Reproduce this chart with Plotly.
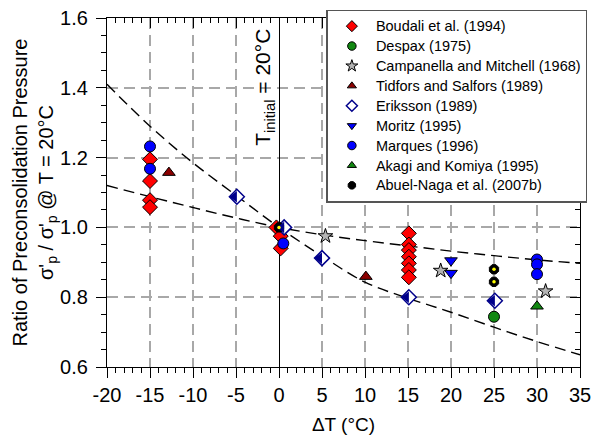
import plotly.graph_objects as go

FONT = "Liberation Sans, Arial, sans-serif"

# ---- data ----
x_ticks = [-20, -15, -10, -5, 0, 5, 10, 15, 20, 25, 30, 35]
x_ticklabels = ["-20", "-15", "-10", "-5", "0", "5", "10", "15", "20", "25", "30", "35"]
y_ticks = [0.6, 0.8, 1.0, 1.2, 1.4, 1.6]
y_ticklabels = ["0.6", "0.8", "1.0", "1.2", "1.4", "1.6"]

upper_x = [-20, -15, -10, -5, 0, 5, 10, 15, 20, 25, 30, 35]
upper_y = [1.41, 1.29, 1.185, 1.092, 1.0, 0.918, 0.843, 0.797, 0.757, 0.714, 0.673, 0.635]
lower_x = [-20, -15, -10, -5, 0, 5, 10, 15, 20, 25, 30, 35]
lower_y = [1.12, 1.088, 1.057, 1.027, 1.0, 0.979, 0.962, 0.947, 0.932, 0.919, 0.907, 0.897]

boudali_x = [-15, -15, -15, -15, -0.3, 0.2, 0.2, 15.1, 15.1, 15.1, 15.1, 15.1, 15.1, 15.1]
boudali_y = [1.195, 1.133, 1.078, 1.058, 1.0, 0.975, 0.94, 0.983, 0.951, 0.935, 0.916, 0.897, 0.878, 0.857]
despax_x = [25]
despax_y = [0.744]
campanella_x = [5.4, 18.8, 31.0]
campanella_y = [0.975, 0.876, 0.817]
tidfors_x = [-12.8, 10.1]
tidfors_y = [1.157, 0.859]
eriksson_x = [-4.9, 0.6, 5.0, 15.1, 25.1]
eriksson_y = [1.088, 1.0, 0.912, 0.80, 0.79]
moritz_x = [20, 20]
moritz_y = [0.905, 0.869]
marques_x = [-15, -15, 0.5, 30, 30, 30]
marques_y = [1.232, 1.168, 0.954, 0.908, 0.894, 0.866]
akagi_x = [30]
akagi_y = [0.774]
abuel_x = [0, 25, 25]
abuel_y = [1.0, 0.880, 0.844]

fig = go.Figure()

dash = "11px,6px"
fig.add_trace(go.Scatter(x=upper_x, y=upper_y, mode="lines", line=dict(color="black", width=1.4, dash=dash, shape="spline"),
                         showlegend=False, hoverinfo="skip"))
fig.add_trace(go.Scatter(x=lower_x, y=lower_y, mode="lines", line=dict(color="black", width=1.4, dash=dash, shape="spline"),
                         showlegend=False, hoverinfo="skip"))

LEG_SIZE = 14.5

def mk(x, y, name, symbol, size, color, lc="black", lw=1, legsize=8.5):
    # data trace (not in legend)
    fig.add_trace(go.Scatter(x=x, y=y, mode="markers", name=name, showlegend=False,
                             marker=dict(symbol=symbol, size=size, color=color, line=dict(color=lc, width=lw))))
    # legend-only entry with a small symbol, as in the reference legend
    if name:
        fig.add_trace(go.Scatter(x=[None], y=[None], mode="markers", showlegend=True, hoverinfo="skip",
                                 name=f'<span style="font-size:{LEG_SIZE}px">{name}</span>',
                                 marker=dict(symbol=symbol, size=legsize, color=color, line=dict(color=lc, width=lw))))

mk(boudali_x, boudali_y, "Boudali et al. (1994)", "diamond", 11.5, "#ff0000")
mk(despax_x, despax_y, "Despax (1975)", "circle", 11, "#118811")
mk(campanella_x, campanella_y, "Campanella and Mitchell (1968)", "star", 11, "#b4b4b4", legsize=9)
mk(tidfors_x, tidfors_y, "Tidfors and Salfors (1989)", "triangle-up", 11, "#8b0000", legsize=8)
mk(eriksson_x, eriksson_y, "Eriksson (1989)", "diamond", 11.5, "white", lc="#00008b", lw=1.5)
mk(moritz_x, moritz_y, "Moritz (1995)", "triangle-down", 11, "#0000ff", legsize=8)
mk(marques_x, marques_y, "Marques (1996)", "circle", 11, "#0000ff")
mk(akagi_x, akagi_y, "Akagi and Komiya (1995)", "triangle-up", 11, "#118811", legsize=8)
mk(abuel_x, abuel_y, "Abuel-Naga et al. (2007b)", "octagon", 10, "black", legsize=8)

# overlays: left half of Eriksson diamonds, yellow centre of Abuel-Naga symbols
half_shift = 0.29
mk([v - half_shift for v in eriksson_x], eriksson_y, "", "triangle-left", 10, "#00008b", lc="#00008b", lw=0)
mk(abuel_x, abuel_y, "", "circle", 3.5, "#ffff00", lw=0)

# invisible trace carrying the mirrored axes (top/right ticks pointing inward)
fig.add_trace(go.Scatter(x=[x_ticks[0], x_ticks[-1]], y=[y_ticks[0], y_ticks[-1]], mode="markers",
                         marker=dict(opacity=0, size=1), xaxis="x2", yaxis="y2",
                         showlegend=False, hoverinfo="skip"))

common = dict(showline=True, linecolor="black", linewidth=1.3, tickcolor="black", tickwidth=1.2)

fig.update_layout(
    width=593, height=440,
    margin=dict(l=107, r=13, t=18, b=73, autoexpand=False),
    plot_bgcolor="white", paper_bgcolor="white",
    font=dict(family=FONT, size=20, color="black"),
    xaxis=dict(range=[-20, 35], tickmode="array", tickvals=x_ticks, ticktext=x_ticklabels,
               ticks="outside", ticklen=10, tickfont=dict(size=20), mirror=True,
               showgrid=True, gridcolor="#a8a8a8", gridwidth=1.5, griddash=dash,
               zeroline=True, zerolinecolor="black", zerolinewidth=1.1,
               minor=dict(tickmode="linear", tick0=-20, dtick=1, ticks="outside", ticklen=5,
                          tickcolor="black", tickwidth=1, showgrid=False),
               title=dict(text="ΔT (°C)", font=dict(size=19), standoff=12),
               **common),
    yaxis=dict(range=[0.6, 1.6], tickmode="array", tickvals=y_ticks, ticktext=y_ticklabels,
               ticks="outside", ticklen=10, tickfont=dict(size=20), ticklabelstandoff=4, mirror=True,
               showgrid=True, gridcolor="#a8a8a8", gridwidth=1.5, griddash=dash,
               zeroline=False,
               minor=dict(tickmode="linear", tick0=0.6, dtick=0.05, ticks="outside", ticklen=5,
                          tickcolor="black", tickwidth=1, showgrid=False),
               title=dict(text="Ratio of Preconsolidation Pressure<br>σ'<sub>p</sub> / σ'<sub>p</sub> @ T = 20°C",
                          font=dict(size=20), standoff=0),
               **common),
    xaxis2=dict(range=[-20, 35], overlaying="x", side="top", anchor="y2", tickmode="array", tickvals=x_ticks,
                ticks="inside", ticklen=10, showticklabels=False, showgrid=False, zeroline=False,
                minor=dict(tickmode="linear", tick0=-20, dtick=1, ticks="inside", ticklen=5,
                           tickcolor="black", tickwidth=1),
                **common),
    yaxis2=dict(range=[0.6, 1.6], overlaying="y", side="right", anchor="x2", tickmode="array", tickvals=y_ticks,
                ticks="inside", ticklen=10, showticklabels=False, showgrid=False, zeroline=False,
                minor=dict(tickmode="linear", tick0=0.6, dtick=0.05, ticks="inside", ticklen=5,
                           tickcolor="black", tickwidth=1),
                **common),
    legend=dict(x=0.4638, y=1.0238, xanchor="left", yanchor="top",
                font=dict(size=13, family=FONT), bgcolor="white",
                bordercolor="#555555", borderwidth=1.5, itemwidth=38, tracegroupgap=0),
    annotations=[dict(text="T<sub>initial</sub> = 20°C", x=0, y=1.40, xref="x", yref="y",
                      textangle=-90, showarrow=False, xanchor="center", yanchor="middle",
                      xshift=-15, font=dict(size=21))],
)

fig.write_html("out.html")
